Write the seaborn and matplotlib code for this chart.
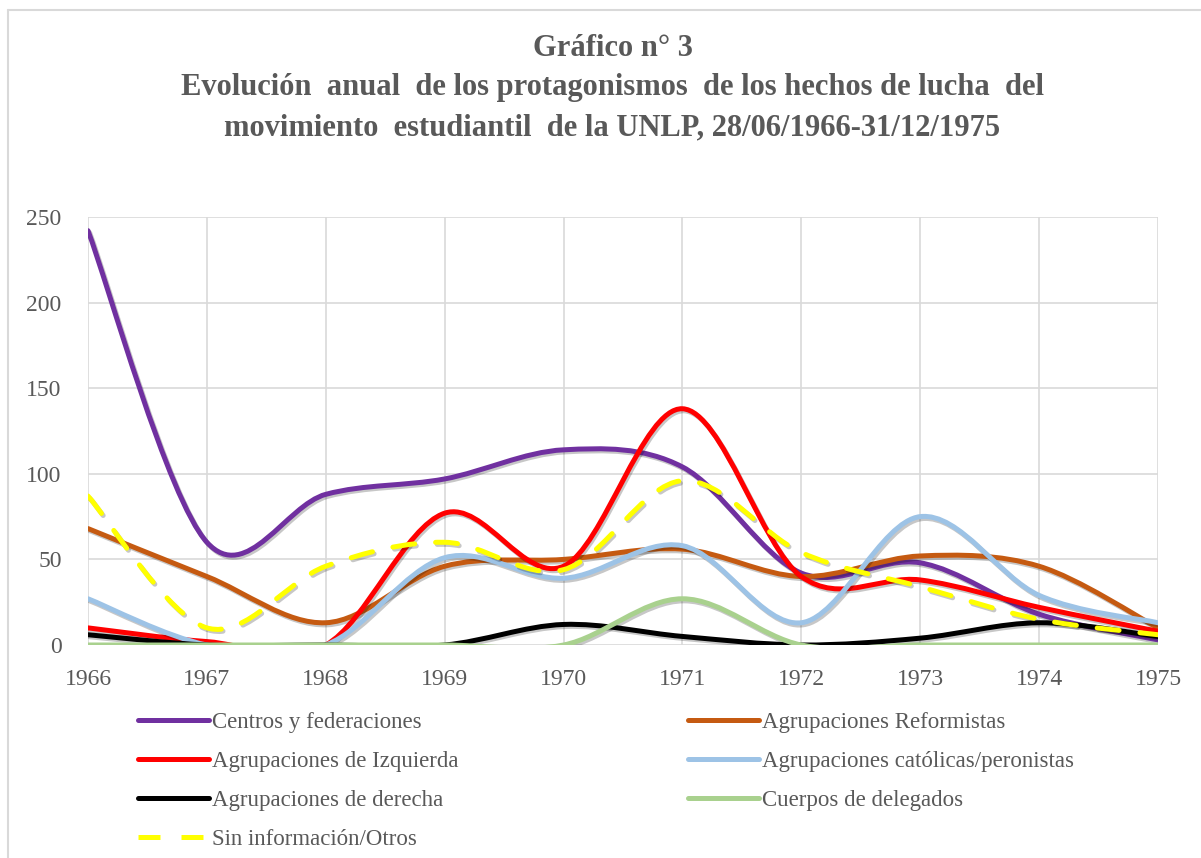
import matplotlib
matplotlib.use("Agg")
import matplotlib.pyplot as plt
import matplotlib.patheffects as pe
from matplotlib.path import Path
from matplotlib.patches import PathPatch
from matplotlib.lines import Line2D
import numpy as np
import seaborn as sns

years = [1966, 1967, 1968, 1969, 1970, 1971, 1972, 1973, 1974, 1975]

centros = [242, 60, 88, 97, 114, 104, 42, 48, 18, 3]
reformistas = [68, 40, 13, 46, 50, 56, 40, 52, 46, 10]
izquierda = [10, 2, 0, 77, 46, 138, 40, 38, 22, 8]
catolicas = [27, 0, 0, 51, 39, 58, 13, 75, 29, 13]
derecha = [6, 0, 0, 0, 12, 5, 0, 4, 13, 5]
delegados = [0, 0, 0, 0, 0, 27, 0, 0, 0, 0]
sin_info = [87, 10, 46, 60, 44, 96, 54, 34, 15, 6]

labels = ["Centros y federaciones", "Agrupaciones Reformistas",
          "Agrupaciones de Izquierda", "Agrupaciones católicas/peronistas",
          "Agrupaciones de derecha", "Cuerpos de delegados",
          "Sin información/Otros"]
series = [centros, reformistas, izquierda, catolicas, derecha, delegados, sin_info]
colors = ["#7030A0", "#C55A11", "#FF0000", "#9DC3E6", "#000000", "#A9D18E", "#FFFF00"]
styles = ["-", "-", "-", "-", "-", "-", (0, (4.4, 4.2))]

sns.set_style("white")
plt.rcParams['font.family'] = ['Liberation Serif', 'DejaVu Serif']
grey = "#595959"


def smooth_path(xs, ys):
    # Excel-like smoothed line: cubic Bezier through each data point
    pts = np.column_stack([xs, ys]).astype(float)
    n = len(pts)
    verts = [pts[0]]
    codes = [Path.MOVETO]
    for i in range(n - 1):
        p0 = pts[i - 1] if i > 0 else pts[i]
        p1, p2 = pts[i], pts[i + 1]
        p3 = pts[i + 2] if i + 2 < n else pts[i + 1]
        verts += [p1 + (p2 - p0) / 6, p2 - (p3 - p1) / 6, p2]
        codes += [Path.CURVE4] * 3
    return Path(verts, codes)


fig = plt.figure(figsize=(12.01, 8.58), dpi=100)
ax = fig.add_axes([88 / 1201, 1 - 645 / 858, 1070 / 1201, 428 / 858])

for i, (vals, col, ls) in enumerate(zip(series, colors, styles)):
    patch = PathPatch(smooth_path(years, vals), facecolor="none", edgecolor=col,
                      lw=3.6, linestyle=ls, capstyle="round", joinstyle="round",
                      zorder=3 + i, clip_on=True)
    patch.set_path_effects([pe.SimpleLineShadow(offset=(1.2, -1.5), shadow_color="k", alpha=0.22),
                            pe.Normal()])
    ax.add_patch(patch)

ax.set_xlim(1966, 1975)
ax.set_ylim(0, 250)
ax.set_xticks(years)
ax.set_yticks([0, 50, 100, 150, 200, 250])
ax.grid(True, color="#d9d9d9", lw=1.2)
ax.set_axisbelow(True)
sns.despine(ax=ax, left=True, bottom=True, top=True, right=True)
ax.tick_params(length=0, labelsize=17, colors=grey)
ax.tick_params(axis="x", pad=17)
ax.tick_params(axis="y", pad=19)

title_kw = dict(ha="center", va="center", fontsize=22, fontweight="bold", color=grey)
fig.text(0.51, 1 - 48 / 858, "Gráfico n° 3", **title_kw)
fig.text(0.51, 1 - 88 / 858,
         "Evolución  anual  de los protagonismos  de los hechos de lucha  del", **title_kw)
fig.text(0.51, 1 - 128 / 858,
         "movimiento  estudiantil  de la UNLP, 28/06/1966-31/12/1975", **title_kw)

# chart area border (left and top edges visible)
fig.add_artist(Line2D([8 / 1201, 8 / 1201], [0, 1 - 10 / 858], transform=fig.transFigure,
                      color="#d9d9d9", lw=1.5))
fig.add_artist(Line2D([8 / 1201, 1], [1 - 10 / 858, 1 - 10 / 858], transform=fig.transFigure,
                      color="#d9d9d9", lw=1.5))

handles = [Line2D([], [], color=c, lw=3.6, linestyle=s) for c, s in zip(colors, styles)]
left_idx = [0, 2, 4, 6]
right_idx = [1, 3, 5]
leg_kw = dict(frameon=False, fontsize=16.5, handlelength=3.1, handletextpad=0.15,
              labelspacing=0.78, borderpad=0, borderaxespad=0, labelcolor=grey)
fig.legend([handles[i] for i in left_idx], [labels[i] for i in left_idx],
           loc="upper left", bbox_to_anchor=(138 / 1201, 1 - 712 / 858), **leg_kw)
fig.legend([handles[i] for i in right_idx], [labels[i] for i in right_idx],
           loc="upper left", bbox_to_anchor=(688 / 1201, 1 - 712 / 858), **leg_kw)

fig.savefig("out.png", dpi=100)
